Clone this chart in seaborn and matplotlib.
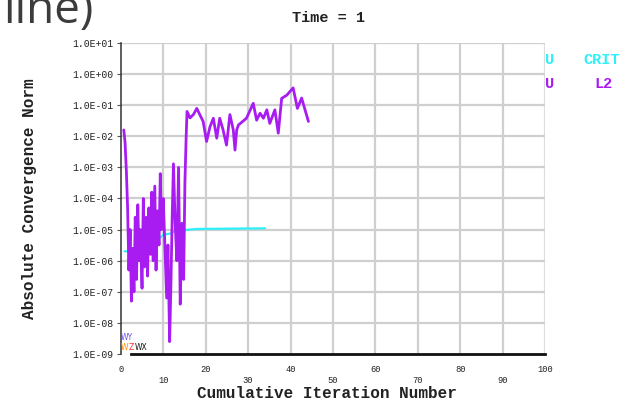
import numpy as np
import pandas as pd
import matplotlib
matplotlib.use("Agg")
import matplotlib.pyplot as plt
import matplotlib.ticker as mticker
import seaborn as sns

# -----------------------------
# DATA
# -----------------------------
l2_iter = [0.7, 1.0, 1.3, 1.6, 1.9, 2.2, 2.5, 2.8, 3.1, 3.4, 3.7, 4.0, 4.3,
           4.6, 5.0, 5.3, 5.6, 6.0, 6.3, 6.6, 7.0, 7.3, 7.6, 8.0, 8.3, 8.6,
           9.0, 9.3, 9.6, 10.0, 10.4, 10.8, 11.1, 11.5, 11.8, 12.1, 12.4,
           12.8, 13.2, 13.6, 14.0, 14.4, 14.8, 15.1, 15.4, 15.6, 16.3,
           17.1, 17.9, 18.6, 19.4, 20.2, 21.0, 21.8, 22.6, 23.3, 24.1, 24.9,
           25.7, 26.5, 26.9, 27.3, 27.7, 29.6, 31.2, 32.0, 32.8, 33.6, 34.4,
           35.1, 36.3, 37.1, 37.9, 39.1, 40.6, 41.6, 42.6, 44.2]
l2_norm = [1.6e-2, 6.3e-3, 8.0e-4, 5.0e-5, 5.0e-7, 1.0e-5, 5.0e-8, 2.5e-6,
           1.0e-7, 2.5e-5, 2.5e-7, 6.3e-5, 1.0e-6, 1.0e-5, 1.3e-7, 1.0e-4,
           6.3e-7, 2.5e-5, 3.2e-7, 5.0e-5, 1.6e-6, 1.6e-4, 1.0e-6, 2.5e-4,
           5.0e-7, 4.0e-5, 3.2e-6, 6.3e-4, 1.0e-5, 1.0e-4, 2.5e-6, 6.3e-8,
           3.2e-6, 2.5e-9, 1.6e-7, 2.5e-5, 1.3e-3, 1.6e-5, 1.0e-6, 1.0e-3,
           4.0e-8, 1.6e-5, 2.5e-7, 3.2e-4, 1.0e-2, 6.3e-2, 3.9e-2,
           5.0e-2, 7.9e-2, 5.0e-2, 3.0e-2, 6.8e-3, 2.0e-2, 3.8e-2, 8.7e-3,
           3.8e-2, 1.6e-2, 5.2e-3, 5.0e-2, 1.6e-2, 3.6e-3, 1.6e-2, 2.3e-2,
           3.8e-2, 1.15e-1, 3.3e-2, 5.5e-2, 3.8e-2, 7.1e-2, 2.6e-2, 7.1e-2,
           1.26e-2, 1.66e-1, 2.1e-1, 3.6e-1, 7.9e-2, 1.7e-1, 3.0e-2]

crit_iter = [0.9, 3.3, 5.3, 7.2, 9.2, 10.0, 12.0, 12.7, 15.5, 17.9, 34.0]
crit_norm = [2.0e-6, 2.0e-6, 2.5e-6, 3.7e-6, 5.4e-6, 6.8e-6, 7.6e-6, 9.3e-6,
             9.8e-6, 1.05e-5, 1.1e-5]

x_ticks = list(range(0, 101, 10))
y_ticks = [10.0 ** k for k in range(-9, 2)]

purple = "#a81cf2"
cyan = "#2ef0f8"

# -----------------------------
# STYLE
# -----------------------------
sns.set_style("white")
plt.rcParams["font.family"] = ["Liberation Mono", "DejaVu Sans Mono"]

fig = plt.figure(figsize=(6.26, 4.0), dpi=100)
ax = fig.add_axes([0.193, 0.115, 0.678, 0.7775])

df_l2 = pd.DataFrame({"iter": l2_iter, "norm": l2_norm})
df_crit = pd.DataFrame({"iter": crit_iter, "norm": crit_norm})

sns.lineplot(data=df_crit, x="iter", y="norm", color=cyan, lw=1.6,
             estimator=None, sort=False, ax=ax)
sns.lineplot(data=df_l2, x="iter", y="norm", color=purple, lw=2.0,
             estimator=None, sort=False, ax=ax)

ax.set_yscale("log")
ax.set_xlim(0, 100)
ax.set_ylim(1e-9, 1e1)

# grid
for v in x_ticks[1:]:
    ax.axvline(v, color="#dddddd" if v == 100 else "#cfcfcf", lw=1.6, zorder=0)
for v in y_ticks[1:]:
    ax.axhline(v, color="#cfcfcf", lw=1.6, zorder=0)

# spines
for s in ["top", "right"]:
    ax.spines[s].set_visible(False)
ax.spines["left"].set_color("#333333")
ax.spines["left"].set_linewidth(1.1)
ax.spines["bottom"].set_color("#111111")
ax.spines["bottom"].set_linewidth(2.0)
ax.spines["bottom"].set_bounds(2.3, 100)

# ticks
ax.set_yticks(y_ticks)
ax.yaxis.set_major_formatter(mticker.FuncFormatter(lambda v, p: f"{v:.1E}"))
ax.yaxis.set_minor_locator(mticker.LogLocator(base=10, subs=range(2, 10)))
ax.yaxis.set_minor_formatter(mticker.NullFormatter())
ax.tick_params(axis="y", which="major", length=3, width=0.8, color="#555555",
               pad=2, labelsize=7, labelcolor="#222222", left=True)
ax.tick_params(axis="y", which="minor", length=2.5, width=0.6, color="#aaaaaa",
               left=True)

ax.set_xticks(x_ticks)
ax.set_xticklabels([str(v) if (v // 10) % 2 == 0 else "\n" + str(v)
                    for v in x_ticks])
ax.tick_params(axis="x", length=0, pad=8, labelsize=6.3, labelcolor="#222222")

# labels
ax.set_xlabel("Cumulative Iteration Number", fontsize=11.5, fontweight="bold",
              color="#222222")
ax.xaxis.set_label_coords(0.486, -0.102)
ax.set_ylabel("Absolute Convergence Norm", fontsize=11.5, fontweight="bold",
              color="#222222")
ax.yaxis.set_label_coords(-0.198, 0.5)

fig.text(328 / 626, 1 - 18 / 400, "Time = 1", fontsize=11,
         fontweight="bold", ha="center", va="center", color="#222222")

# legend texts
fig.text(545 / 626, 1 - 60 / 400, "U", color=cyan, fontsize=11,
         fontweight="bold", va="center")
fig.text(583 / 626, 1 - 60 / 400, "CRIT", color=cyan, fontsize=11,
         fontweight="bold", va="center")
fig.text(545 / 626, 1 - 84 / 400, "U", color=purple, fontsize=11,
         fontweight="bold", va="center")
fig.text(594 / 626, 1 - 84 / 400, "L2", color=purple, fontsize=11,
         fontweight="bold", va="center")

# axis triad glyphs
fig.text(121 / 626, 1 - 338 / 400, "WY", color="#6a4cf0", fontsize=5.5,
         family="DejaVu Sans", va="center")
fig.text(121 / 626, 1 - 347 / 400, "W", color="#ff8a00", fontsize=5.5,
         family="DejaVu Sans", va="center")
fig.text(129 / 626, 1 - 347 / 400, "Z", color="#ff3030", fontsize=5.5,
         family="DejaVu Sans", va="center")
fig.text(134.5 / 626, 1 - 347 / 400, "WX", color="#111111", fontsize=5.5,
         family="DejaVu Sans", va="center")

# slide title fragment
fig.text(3 / 626, 1 - 23 / 400, "line)", fontsize=33, color="#3c3c3c",
         family="Open Sans", va="baseline")

fig.savefig("out.png", dpi=100)
